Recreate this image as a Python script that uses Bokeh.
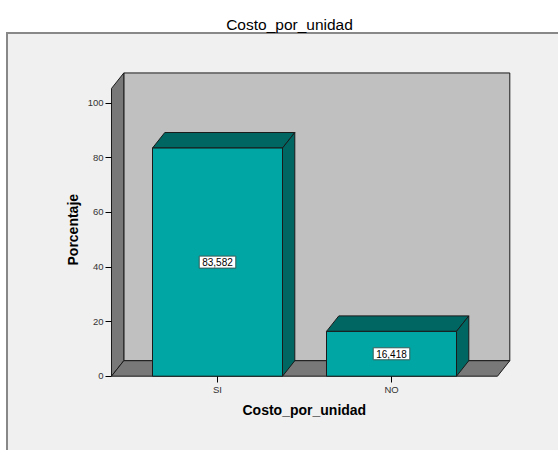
from bokeh.plotting import figure
from bokeh.models import Range1d, FixedTicker, ColumnDataSource, Title
from bokeh.core.properties import value
from bokeh.embed import file_html
from bokeh.resources import INLINE

# ---- data -------------------------------------------------------------
categories = ["SI", "NO"]
percentages = [83.582, 16.418]
value_labels = ["83,582", "16,418"]
y_ticks = [0, 20, 40, 60, 80, 100]

title_text = "Costo_por_unidad"
x_title = "Costo_por_unidad"
y_title = "Porcentaje"

# ---- layout (canvas pixels) --------------------------------------------
W, H = 558, 450
FRAME_L, FRAME_B = 105, 382       # plot frame runs to the top/right edges
PX_PER_X = 174.0          # pixels between category slots
PX_PER_Y = 2.73           # pixels per percentage point
ZERO_PX = 375.7           # canvas y of the zero line
FIRST_CAT_PX = 217.0      # canvas x of the first category centre

FONT = "Liberation Sans"
FRONT = "#00A6A3"
DARK = "#006662"
EDGE = "#1a1a1a"
PANEL = "#F0F0F0"
PANEL_EDGE = "#888888"

# data-space ranges derived from the pixel layout
x_start = 1 - (FIRST_CAT_PX - FRAME_L) / PX_PER_X
x_end = x_start + (W - FRAME_L) / PX_PER_X
y_start = -(FRAME_B - ZERO_PX) / PX_PER_Y
y_end = y_start + FRAME_B / PX_PER_Y


def cx(px):
    """canvas x pixel -> data x"""
    return x_start + (px - FRAME_L) / PX_PER_X


def cy(py):
    """canvas y pixel -> data y"""
    return y_start + (FRAME_B - py) / PX_PER_Y


# 3-D depth offset and box extents in data units
DX = 12.3 / PX_PER_X
DY = 15.5 / PX_PER_Y
HALF_W = 0.5 * 130.0 / PX_PER_X
SIDE_PAD = 106.0 / PX_PER_X
WALL_TOP = 105.4

positions = [i + 1 for i in range(len(categories))]
x0 = positions[0] - SIDE_PAD
x1 = positions[-1] + SIDE_PAD

p = figure(width=W, height=H, output_backend="svg", toolbar_location=None,
           x_range=Range1d(x_start, x_end), y_range=Range1d(y_start, y_end),
           min_border_left=FRAME_L, min_border_right=0,
           min_border_top=0, min_border_bottom=H - FRAME_B,
           background_fill_color=None, border_fill_color=None,
           outline_line_color=None)
p.xgrid.visible = False
p.ygrid.visible = False

# page backdrop: white margin, grey chart panel with a frame line on top/left
p.styles = {
    "background-color": "white",
    "background-image": (f"linear-gradient({PANEL_EDGE}, {PANEL_EDGE}), "
                         f"linear-gradient({PANEL_EDGE}, {PANEL_EDGE}), "
                         f"linear-gradient({PANEL}, {PANEL})"),
    "background-position": "6px 32px, 6px 32px, 8px 34px",
    "background-size": "2px 100%, 100% 2px, 100% 100%",
    "background-repeat": "no-repeat",
}

# back wall, left wall and floor
p.quad(left=[x0 + DX], right=[x1 + DX], bottom=[DY], top=[WALL_TOP + DY],
       fill_color="#C0C0C0", line_color=EDGE, line_width=1)
p.patch([x0, x0, x0 + DX, x0 + DX], [0, WALL_TOP, WALL_TOP + DY, DY],
        fill_color="#787878", line_color=EDGE, line_width=1)
p.patch([x0, x0 + DX, x1 + DX, x1], [0, DY, DY, 0],
        fill_color="#787878", line_color=EDGE, line_width=1)

# bars: front face, top face and right side face
lefts = [c - HALF_W for c in positions]
rights = [c + HALF_W for c in positions]
tops_x = [[l, l + DX, r + DX, r] for l, r in zip(lefts, rights)]
tops_y = [[v, v + DY, v + DY, v] for v in percentages]
side_x = [[r, r, r + DX, r + DX] for r in rights]
side_y = [[0, v, v + DY, DY] for v in percentages]
p.patches(tops_x, tops_y, fill_color=DARK, line_color=EDGE, line_width=1)
p.patches(side_x, side_y, fill_color=DARK, line_color=EDGE, line_width=1)
p.quad(left=lefts, right=rights, bottom=0, top=percentages,
       fill_color=FRONT, line_color=EDGE, line_width=1)

# value labels in white boxes at mid-height
lab = ColumnDataSource(dict(x=positions, y=[v / 2 for v in percentages],
                            t=value_labels))
p.text(x="x", y="y", text="t", source=lab, text_align="center",
       text_baseline="middle", text_font=value(FONT), text_font_size="10px",
       text_color="black", background_fill_color="white",
       border_line_color="#365c5a", border_line_width=1, padding=(3, 2))

# chart title above the grey panel
p.text(x=[cx(289)], y=[cy(23.5)], text=[title_text], text_align="center",
       text_baseline="middle", text_font=value(FONT),
       text_font_size="15.5px", text_color="black")

# axes
yax = p.yaxis[0]
yax.ticker = FixedTicker(ticks=y_ticks)
yax.axis_line_color = None
yax.major_tick_in = 6
yax.major_tick_out = 0
yax.minor_tick_line_color = None
yax.major_tick_line_color = "black"
yax.major_label_standoff = 2
yax.major_label_text_font = FONT
yax.major_label_text_font_size = "9.5px"
yax.major_label_text_color = "#333333"

xax = p.xaxis[0]
xax.ticker = FixedTicker(ticks=positions)
xax.major_label_overrides = {pos: c for pos, c in zip(positions, categories)}
xax.axis_line_color = None
xax.major_tick_in = 6
xax.major_tick_out = 0
xax.minor_tick_line_color = None
xax.major_tick_line_color = "black"
xax.major_label_standoff = 1
xax.major_label_text_font = FONT
xax.major_label_text_font_size = "9.5px"
xax.major_label_text_color = "#333333"

# axis titles, centred on the floor / wall rather than on the whole frame
p.add_layout(Title(text=y_title, align="left", offset=117,
                   vertical_align="bottom", standoff=8,
                   text_font=FONT, text_font_size="14px",
                   text_font_style="bold", text_color="black"), "left")
p.add_layout(Title(text=x_title, align="left", offset=137,
                   vertical_align="top", standoff=8,
                   text_font=FONT, text_font_size="14px",
                   text_font_style="bold", text_color="black"), "below")

open("out.html", "w").write(file_html(p, INLINE))
